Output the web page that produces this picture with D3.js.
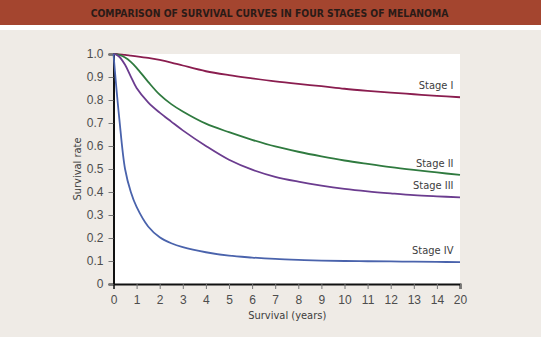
<!DOCTYPE html>
<html>
<head>
    <meta charset="UTF-8" />
    <title>Melanoma survival curves</title>
    <script src="https://d3js.org/d3.v7.min.js"></script>
    <style>
	body { margin: 0; background: #efebe6; }
	svg { display: block; }
	.tick text { font-family: "Liberation Sans", Arial, sans-serif; font-size: 12px; fill: #4d4d4d; }
	.lbl { font-family: "DejaVu Sans Condensed", "Liberation Sans", sans-serif; font-size: 11px; fill: #3d3d3d; }
 	</style>
</head>

<body>
	<div id="chart"></div>

<script type="text/javascript">

	// survival rate by stage, sampled at the same years
	var years = [0, 0.1, 0.25, 0.5, 0.75, 1, 1.5, 2, 2.5, 3, 4, 5, 6, 7, 8, 9, 10, 11, 12, 13, 14, 20]
	var stage1 = [1, 1, 0.998, 0.996, 0.993, 0.99, 0.983, 0.974, 0.963, 0.95, 0.925, 0.908, 0.894, 0.881, 0.87, 0.86, 0.849, 0.84, 0.832, 0.825, 0.818, 0.812]
	var stage2 = [1, 0.999, 0.996, 0.985, 0.966, 0.94, 0.879, 0.823, 0.782, 0.75, 0.697, 0.66, 0.627, 0.598, 0.575, 0.555, 0.537, 0.522, 0.508, 0.496, 0.485, 0.474]
	var stage3 = [1, 0.998, 0.988, 0.953, 0.902, 0.852, 0.79, 0.745, 0.706, 0.668, 0.6, 0.54, 0.497, 0.466, 0.445, 0.428, 0.414, 0.403, 0.394, 0.386, 0.381, 0.377]
	var stage4 = [1, 0.88, 0.72, 0.5, 0.4, 0.335, 0.25, 0.203, 0.177, 0.16, 0.138, 0.123, 0.115, 0.109, 0.105, 0.102, 0.1, 0.099, 0.098, 0.097, 0.096, 0.095]
	var stageNames = ["Stage I", "Stage II", "Stage III", "Stage IV"]
	var stageColors = ["#8a1d4f", "#2f7a3f", "#6b3c8f", "#4a63ac"]

	var xTicks = [0, 1, 2, 3, 4, 5, 6, 7, 8, 9, 10, 11, 12, 13, 14, 20]
	var yTicks = [0, 0.1, 0.2, 0.3, 0.4, 0.5, 0.6, 0.7, 0.8, 0.9, 1.0]
	var title = "COMPARISON OF SURVIVAL CURVES IN FOUR STAGES OF MELANOMA"

	var W = 541, H = 337
	var margin = {top: 54, right: 81, bottom: 53, left: 113.5},
		width = W - margin.left - margin.right,
		height = H - margin.top - margin.bottom;

	var root = d3.select("div#chart")
		.append("svg")
			.attr("width", W)
			.attr("height", H)

	// header band
	root.append("rect").attr("width", W).attr("height", 30).attr("fill", "#fff")
	root.append("rect").attr("width", W).attr("height", 25).attr("fill", "#a4452f")
	root.append("text")
		.attr("x", W / 2 - 1)
		.attr("y", 17)
		.attr("text-anchor", "middle")
		.style("font-family", "'DejaVu Sans Condensed', sans-serif")
		.style("font-weight", "bold")
		.style("font-size", "10.3px")
		.style("fill", "#2a1b17")
		.text(title)

	var svg = root.append("g")
		.attr("transform", "translate(" + margin.left + "," + margin.top + ")");

	// the last step of the axis jumps from 14 to 20 years
	var x = d3.scaleLinear()
		.domain([0, 14, 20])
		.range([0, width * 14 / 15, width]);
	var y = d3.scaleLinear()
		.domain([0, 1])
		.range([height, 0]);

	svg.append("rect")
		.attr("width", width)
		.attr("height", height)
		.attr("fill", "#fff")

	var xAxis = svg.append("g")
		.attr("transform", "translate(0," + height + ")")
		.call(d3.axisBottom(x).tickValues(xTicks).tickSize(5).tickPadding(6).tickFormat(d3.format("d")))
	var yAxis = svg.append("g")
		.call(d3.axisLeft(y).tickValues(yTicks).tickSize(5).tickPadding(5)
			.tickFormat(function(d) { return d === 0 ? "0" : d3.format(".1f")(d) }))
	;[xAxis, yAxis].forEach(function(a) {
		a.select(".domain").attr("stroke", "#111").attr("stroke-width", 2)
		a.selectAll(".tick line").attr("stroke", "#777").attr("stroke-width", 1)
	})

	// curves
	var line = d3.line()
		.x(function(d) { return x(d[0]) })
		.y(function(d) { return y(d[1]) })
		.curve(d3.curveCatmullRom.alpha(0.5))

	var series = [stage1, stage2, stage3, stage4].map(function(vals, i) {
		return {name: stageNames[i], color: stageColors[i], pts: years.map(function(t, j) { return [t, vals[j]] })}
	})

	svg.selectAll("path.curve")
		.data(series)
		.enter()
		.append("path")
			.attr("class", "curve")
			.attr("fill", "none")
			.attr("stroke", function(d) { return d.color })
			.attr("stroke-width", 1.8)
			.attr("d", function(d) { return line(d.pts) })

	svg.selectAll("text.stage")
		.data(series)
		.enter()
		.append("text")
			.attr("class", "lbl stage")
			.attr("x", width - 6.5)
			.attr("y", function(d) { return y(d.pts[d.pts.length - 1][1]) - 8 })
			.attr("text-anchor", "end")
			.text(function(d) { return d.name })

	// axis titles
	svg.append("text")
		.attr("class", "lbl")
		.attr("x", width / 2 + 0.5)
		.attr("y", height + 35)
		.attr("text-anchor", "middle")
		.text("Survival (years)")
	svg.append("text")
		.attr("class", "lbl")
		.attr("transform", "rotate(-90)")
		.attr("x", -height / 2)
		.attr("y", -33)
		.attr("text-anchor", "middle")
		.text("Survival rate")
</script>
</body>
</html>
